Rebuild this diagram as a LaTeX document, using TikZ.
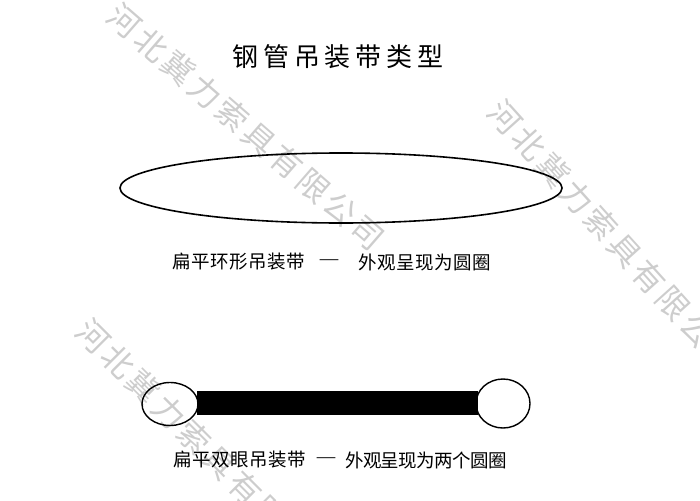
\documentclass[tikz,border=0pt]{standalone}
\usepackage{fontspec}
\newfontfamily\cjktitle[LetterSpace=18]{Noto Sans CJK SC}
\newfontfamily\cjkcap[LetterSpace=3]{Noto Sans CJK SC}
\newfontfamily\cjkcapn[LetterSpace=-3.5]{Noto Sans CJK SC}
\newfontfamily\cjkwm[LetterSpace=12]{Noto Sans CJK SC}
\newfontfamily\dashfont{Liberation Serif}
\definecolor{wmgray}{RGB}{205,205,205}
\begin{document}
\begin{tikzpicture}[x=1pt,y=-1pt,
  wmtxt/.style={text=wmgray,font=\cjkwm\fontsize{32}{34}\selectfont,inner sep=0pt},
  captxt/.style={font=\cjkcap\fontsize{18.5}{20}\selectfont,inner sep=0pt},
  captxtn/.style={font=\cjkcapn\fontsize{18.5}{20}\selectfont,inner sep=0pt},
  dashtxt/.style={font=\dashfont\fontsize{18.5}{20}\selectfont,inner sep=0pt},
  ttltxt/.style={font=\cjktitle\fontsize{26}{30}\selectfont,inner sep=0pt},
  ringline/.style={draw=black,line width=1.6pt},
  eyeline/.style={draw=black,line width=1.4pt}]
\useasboundingbox (0,0) rectangle (700,500);
% watermarks
\node[wmtxt,rotate=-41] (wm1) at (246,127) {河北冀力索具有限公司};
\node[wmtxt,rotate=-48] (wm2) at (613,237) {河北冀力索具有限公司};
\node[wmtxt,rotate=-45] (wm3) at (207,450) {河北冀力索具有限公司};
% title
\node[ttltxt] (title) at (338,57) {钢管吊装带类型};
% endless (ring) sling
\draw[ringline] (341,188) ellipse [x radius=221, y radius=35];
\node[captxt,anchor=west] (c1a) at (172,262) {扁平环形吊装带};
\node[dashtxt] (c1d) at (329,262) {—};
\node[captxt,anchor=west] (c1b) at (358,262) {外观呈现为圆圈};
% double-eye sling
\fill[black] (197,390.5) rectangle (478,414.5);
\draw[eyeline] (170,404) ellipse [x radius=28, y radius=21.5];
\draw[eyeline] (503,403.5) ellipse [x radius=27, y radius=24.5];
\node[captxt,anchor=west] (c2a) at (173,460) {扁平双眼吊装带};
\node[dashtxt] (c2d) at (326,460) {—};
\node[captxtn,anchor=west] (c2b) at (345,460) {外观呈现为两个圆圈};
\end{tikzpicture}
\end{document}
